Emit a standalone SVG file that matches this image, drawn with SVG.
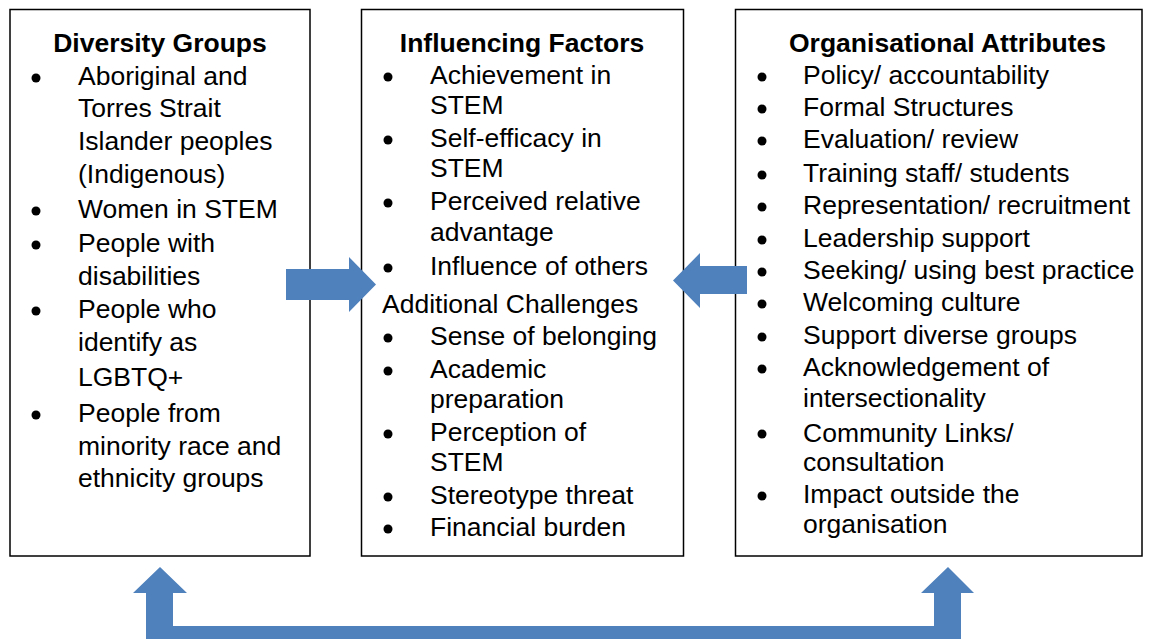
<svg xmlns="http://www.w3.org/2000/svg" width="1152" height="639" viewBox="0 0 1152 639">
<style>
.box{fill:#fff;stroke:#000;stroke-width:1.5}
text{font-family:"Liberation Sans",Arial,sans-serif;font-size:26.5px;fill:#000}
.t{font-weight:bold}
.b{fill:#000}
.arr{fill:#4f81bd}
</style>
<rect width="1152" height="639" fill="#fff"/>
<g id="diversity-groups">
<rect class="box" x="10" y="9.5" width="300" height="546.5"/>
<text class="t" x="160" y="52" text-anchor="middle">Diversity Groups</text>
<circle class="b" cx="36" cy="78" r="4.5"/><circle class="b" cx="36" cy="211" r="4.5"/><circle class="b" cx="36" cy="245" r="4.5"/><circle class="b" cx="36" cy="311" r="4.5"/><circle class="b" cx="36" cy="415" r="4.5"/>
<text x="78" y="85">Aboriginal and</text>
<text x="78" y="117">Torres Strait</text>
<text x="78" y="150">Islander peoples</text>
<text x="78" y="183">(Indigenous)</text>
<text x="78" y="218">Women in STEM</text>
<text x="78" y="252">People with</text>
<text x="78" y="285">disabilities</text>
<text x="78" y="318">People who</text>
<text x="78" y="351">identify as</text>
<text x="78" y="386">LGBTQ+</text>
<text x="78" y="422">People from</text>
<text x="78" y="455">minority race and</text>
<text x="78" y="487">ethnicity groups</text>
</g>
<g id="influencing-factors">
<rect class="box" x="361.5" y="9.5" width="322" height="546.5"/>
<text class="t" x="522" y="52" text-anchor="middle">Influencing Factors</text>
<circle class="b" cx="388" cy="77" r="4.5"/><circle class="b" cx="388" cy="140" r="4.5"/><circle class="b" cx="388" cy="203" r="4.5"/><circle class="b" cx="388" cy="268" r="4.5"/><circle class="b" cx="388" cy="338" r="4.5"/><circle class="b" cx="388" cy="371" r="4.5"/><circle class="b" cx="388" cy="434" r="4.5"/><circle class="b" cx="388" cy="497" r="4.5"/><circle class="b" cx="388" cy="529" r="4.5"/>
<text x="430" y="84">Achievement in</text>
<text x="430" y="114">STEM</text>
<text x="430" y="147">Self-efficacy in</text>
<text x="430" y="177">STEM</text>
<text x="430" y="210">Perceived relative</text>
<text x="430" y="241">advantage</text>
<text x="430" y="275">Influence of others</text>
<text x="382" y="313">Additional Challenges</text>
<text x="430" y="345">Sense of belonging</text>
<text x="430" y="378">Academic</text>
<text x="430" y="408">preparation</text>
<text x="430" y="441">Perception of</text>
<text x="430" y="471">STEM</text>
<text x="430" y="504">Stereotype threat</text>
<text x="430" y="536">Financial burden</text>
</g>
<g id="organisational-attributes">
<rect class="box" x="735.5" y="9.5" width="406.5" height="546.5"/>
<text class="t" x="789" y="52">Organisational Attributes</text>
<circle class="b" cx="762" cy="77" r="4.5"/><circle class="b" cx="762" cy="109" r="4.5"/><circle class="b" cx="762" cy="141" r="4.5"/><circle class="b" cx="762" cy="175" r="4.5"/><circle class="b" cx="762" cy="207" r="4.5"/><circle class="b" cx="762" cy="240" r="4.5"/><circle class="b" cx="762" cy="272" r="4.5"/><circle class="b" cx="762" cy="304" r="4.5"/><circle class="b" cx="762" cy="337" r="4.5"/><circle class="b" cx="762" cy="369" r="4.5"/><circle class="b" cx="762" cy="434" r="4.5"/><circle class="b" cx="762" cy="496" r="4.5"/>
<text x="803" y="84">Policy/ accountability</text>
<text x="803" y="116">Formal Structures</text>
<text x="803" y="148">Evaluation/ review</text>
<text x="803" y="182">Training staff/ students</text>
<text x="803" y="214">Representation/ recruitment</text>
<text x="803" y="247">Leadership support</text>
<text x="803" y="279">Seeking/ using best practice</text>
<text x="803" y="311">Welcoming culture</text>
<text x="803" y="344">Support diverse groups</text>
<text x="803" y="376">Acknowledgement of</text>
<text x="803" y="407">intersectionality</text>
<text x="803" y="442">Community Links/</text>
<text x="803" y="471">consultation</text>
<text x="803" y="503">Impact outside the</text>
<text x="803" y="533">organisation</text>
</g>
<g id="connectors">
<polygon class="arr" points="286,269 349,269 349,257 376,284.5 349,312 349,300 286,300"/>
<polygon class="arr" points="747,266 700,266 700,253 673,280.5 700,308 700,294 747,294"/>
<polygon class="arr" points="146,645 146,593 133,593 160,567 187,593 173,593 173,626 934,626 934,593 921,593 948,567 974,593 961,593 961,645"/>
</g>
</svg>
